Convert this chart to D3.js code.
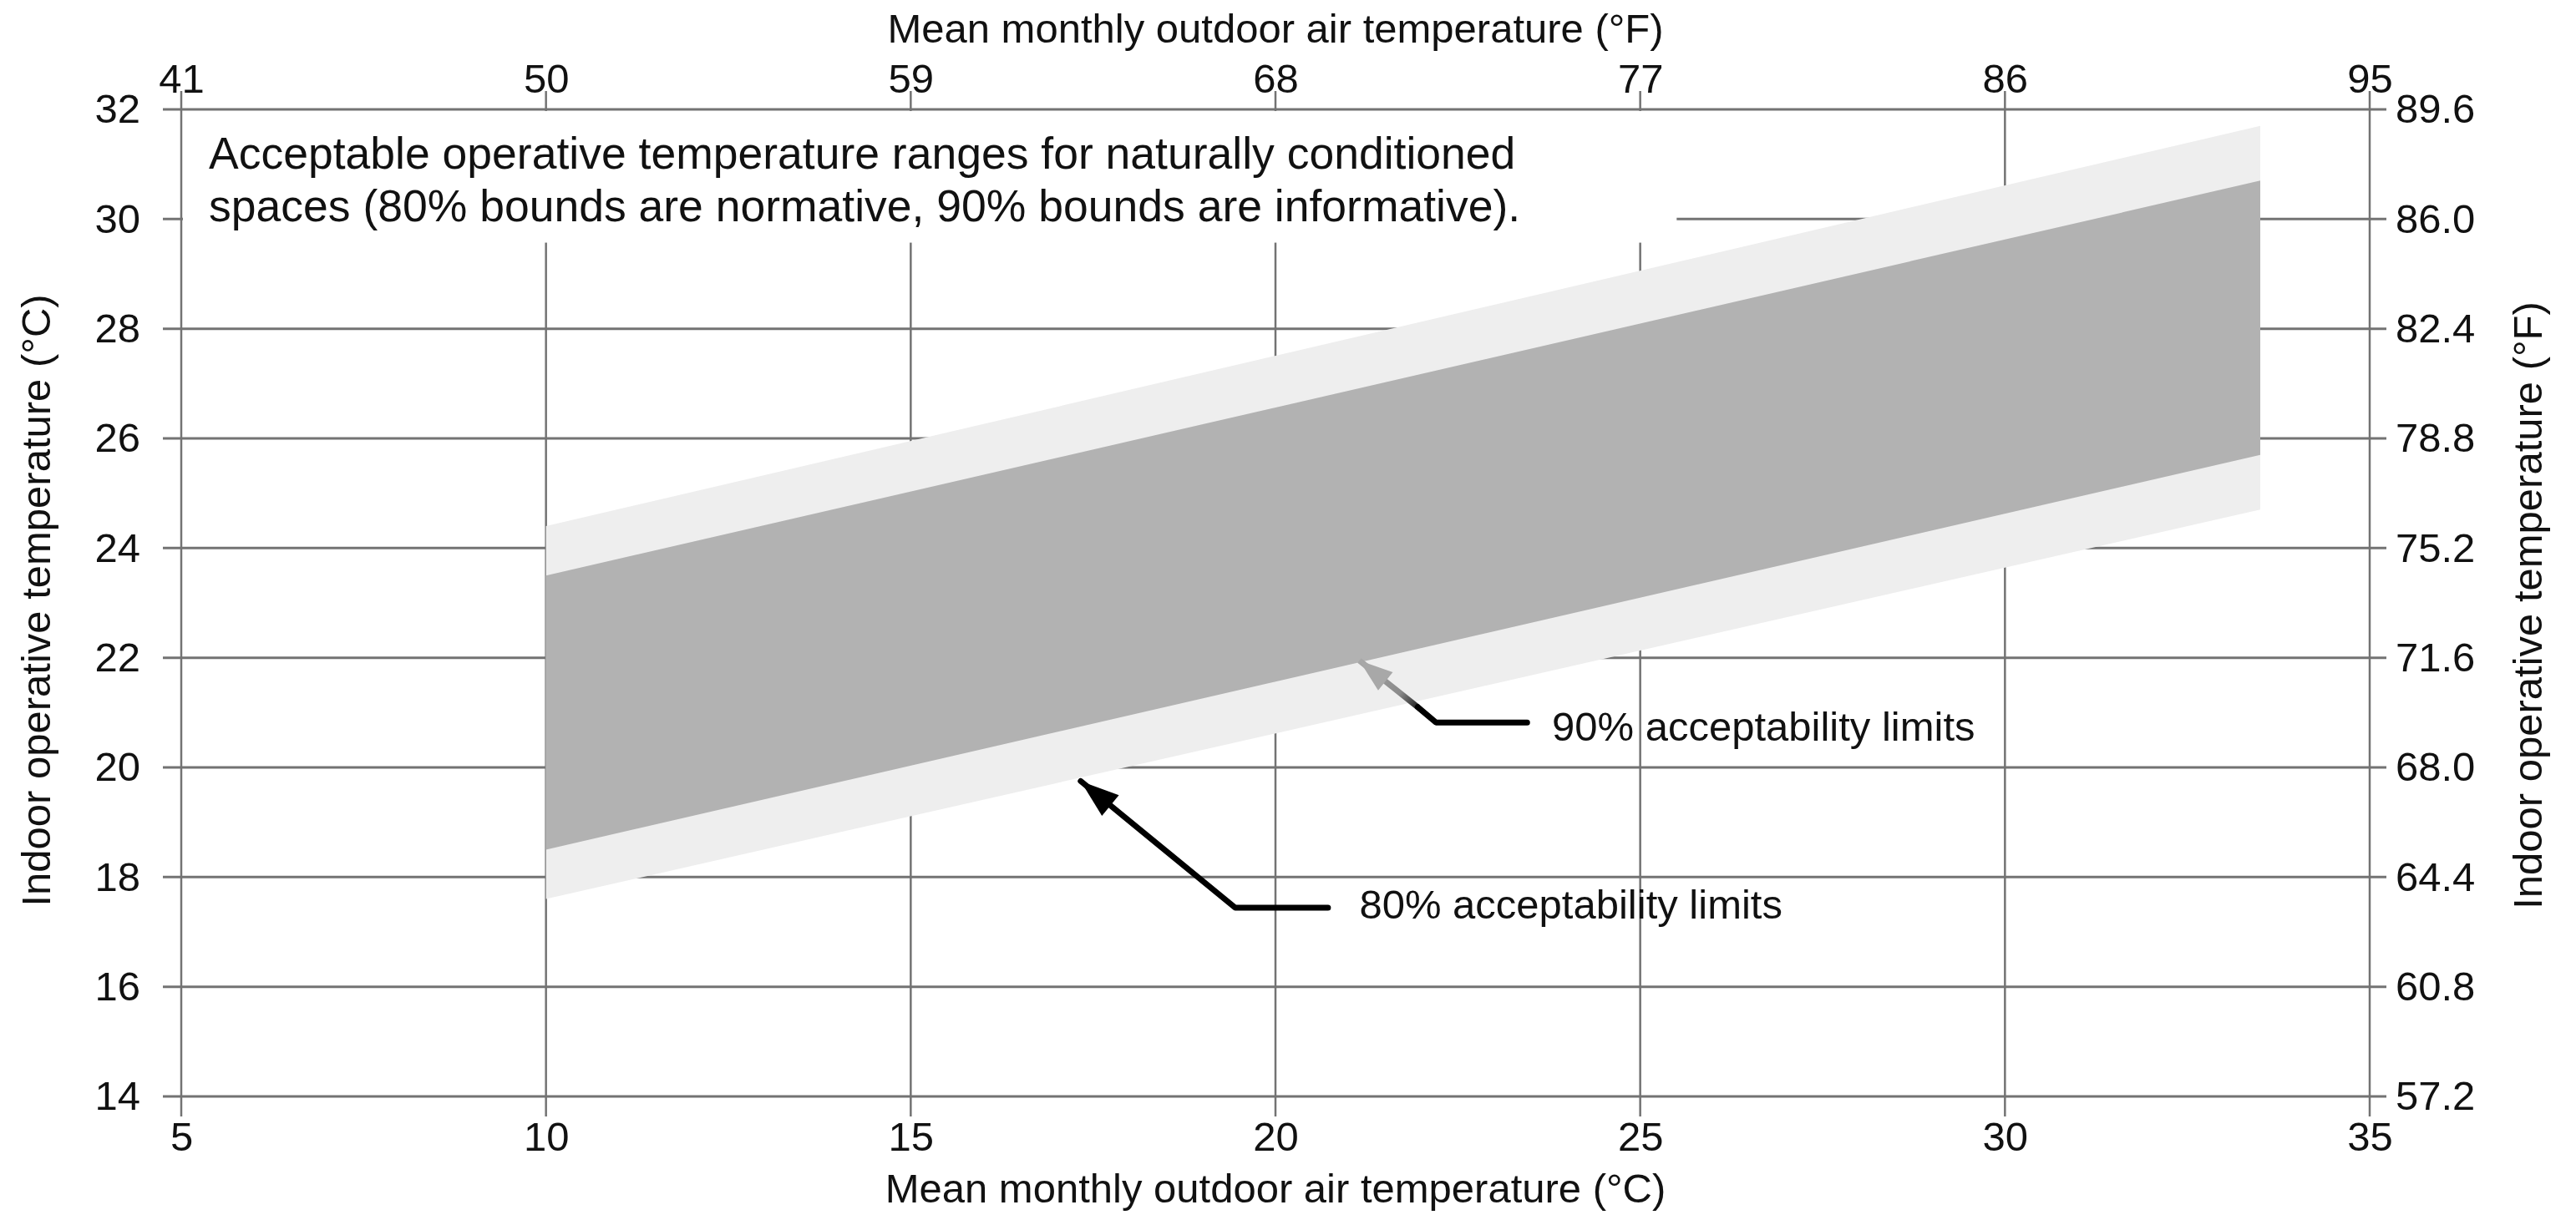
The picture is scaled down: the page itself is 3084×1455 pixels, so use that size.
<!DOCTYPE html>
<html>
<head>
<meta charset="utf-8">
<script src="https://cdn.jsdelivr.net/npm/d3@7.9.0/dist/d3.min.js"></script>
<style>
  html, body { margin: 0; padding: 0; background: #fff; }
  svg { display: block; font-family: "Liberation Sans", Arial, sans-serif; }
</style>
</head>
<body>
<svg id="chart" width="3084" height="1455"></svg>
<script>
// Tick values for both unit systems
const xTicksC = [5, 10, 15, 20, 25, 30, 35];
const xTicksF = [41, 50, 59, 68, 77, 86, 95];
const yTicksC = [14, 16, 18, 20, 22, 24, 26, 28, 30, 32];
const yTicksF = ['57.2', '60.8', '64.4', '68.0', '71.6', '75.2', '78.8', '82.4', '86.0', '89.6'];

// Band edges (°C), at the two ends of the applicable range
const outdoorC = [10, 33.5];
const upper80 = [24.4, 31.7];
const upper90 = [23.5, 30.7];
const lower90 = [18.5, 25.7];
const lower80 = [17.6, 24.7];

// Leader lines for the two labels, in data units (°C, °C)
const arrow90 = [[21.15, 21.95], [21.95, 21.1], [22.2, 20.82], [23.45, 20.82]];
const arrow80 = [[17.33, 19.75], [19.45, 17.44], [20.72, 17.44]];

const noteLines = [
  'Acceptable operative temperature ranges for naturally conditioned',
  'spaces (80% bounds are normative, 90% bounds are informative).'
];

const W = 3084, H = 1455;
const margin = { top: 131, right: 247, bottom: 142, left: 217 };
const fontSize = 49;
const noteSize = 53.5;

const svg = d3.select('#chart');

let x = d3.scaleLinear().domain([5, 35]).range([margin.left, W - margin.right]);
let xF = d3.scaleLinear().domain([41, 95]).range(x.range());
let y = d3.scaleLinear().domain([14, 32]).range([H - margin.bottom, margin.top]);
let yF = d3.scaleLinear().domain([57.2, 89.6]).range(y.range());

const gridColor = '#737373';

// grid lines (they reach a bit past the frame, like tick marks)
svg.append('g')
  .selectAll('line')
  .data(yTicksC)
  .enter()
  .append('line')
  .attr('x1', x(5) - 22)
  .attr('x2', x(35) + 20)
  .attr('y1', (d) => y(d))
  .attr('y2', (d) => y(d))
  .attr('stroke', gridColor)
  .attr('stroke-width', 3);

svg.append('g')
  .selectAll('line')
  .data(xTicksC)
  .enter()
  .append('line')
  .attr('x1', (d) => x(d))
  .attr('x2', (d) => x(d))
  .attr('y1', y(32) - 22)
  .attr('y2', y(14) + 24)
  .attr('stroke', gridColor)
  .attr('stroke-width', 2.5);

// bands: 80% (outer, light) then 90% (inner, dark)
let bandData = outdoorC.map((t, i) => ({
  t: t, u80: upper80[i], l80: lower80[i], u90: upper90[i], l90: lower90[i]
}));

let area80 = d3.area().x((d) => x(d.t)).y0((d) => y(d.l80)).y1((d) => y(d.u80));
let area90 = d3.area().x((d) => x(d.t)).y0((d) => y(d.l90)).y1((d) => y(d.u90));

svg.append('path').datum(bandData).attr('d', area80).attr('fill', '#eeeeee');
svg.append('path').datum(bandData).attr('d', area90).attr('fill', '#b2b2b2');

// white box behind the note
svg.append('rect')
  .attr('x', x(5) + 2)
  .attr('y', y(32) + 2)
  .attr('width', x(25.5) - x(5) - 2)
  .attr('height', y(29.57) - y(32) - 2)
  .attr('fill', '#fff');

svg.append('g')
  .selectAll('text')
  .data(noteLines)
  .enter()
  .append('text')
  .attr('x', 250)
  .attr('y', (d, i) => 202 + i * 63)
  .attr('font-size', noteSize)
  .attr('fill', '#111')
  .text((d) => d);

// axes (labels only, the grid draws the tick marks)
function styleAxis(g) {
  g.select('.domain').remove();
  g.selectAll('.tick line').remove();
  g.selectAll('text')
    .attr('font-size', fontSize)
    .attr('font-family', '"Liberation Sans", Arial, sans-serif')
    .attr('fill', '#111');
}

svg.append('g')
  .attr('transform', `translate(0,${y(14)})`)
  .call(d3.axisBottom(x).tickValues(xTicksC).tickSize(0).tickPadding(30).tickFormat(d3.format('d')))
  .call(styleAxis);

svg.append('g')
  .attr('transform', `translate(0,${y(32)})`)
  .call(d3.axisTop(xF).tickValues(xTicksF).tickSize(0).tickPadding(20).tickFormat(d3.format('d')))
  .call(styleAxis);

svg.append('g')
  .attr('transform', `translate(${x(5)},0)`)
  .call(d3.axisLeft(y).tickValues(yTicksC).tickSize(0).tickPadding(49).tickFormat(d3.format('d')))
  .call(styleAxis);

svg.append('g')
  .attr('transform', `translate(${x(35)},0)`)
  .call(d3.axisRight(yF).tickValues(yTicksF.map(Number)).tickSize(0).tickPadding(31)
    .tickFormat((d, i) => yTicksF[i]))
  .call(styleAxis);

// axis titles
const midX = (x(5) + x(35)) / 2;
const midY = (y(14) + y(32)) / 2;

svg.append('text')
  .attr('x', midX).attr('y', 51)
  .attr('text-anchor', 'middle').attr('font-size', fontSize).attr('fill', '#111')
  .text('Mean monthly outdoor air temperature (°F)');

svg.append('text')
  .attr('x', midX).attr('y', 1440)
  .attr('text-anchor', 'middle').attr('font-size', fontSize).attr('fill', '#111')
  .text('Mean monthly outdoor air temperature (°C)');

svg.append('text')
  .attr('transform', `translate(60,${midY - 3}) rotate(-90)`)
  .attr('text-anchor', 'middle').attr('font-size', fontSize).attr('fill', '#111')
  .text('Indoor operative temperature (°C)');

svg.append('text')
  .attr('transform', `translate(3043,${midY + 3}) rotate(-90)`)
  .attr('text-anchor', 'middle').attr('font-size', fontSize).attr('fill', '#111')
  .text('Indoor operative temperature (°F)');

// arrowheads
function arrowHead(p0, p1, len, half, color) {
  let dx = p0[0] - p1[0], dy = p0[1] - p1[1];
  let n = Math.hypot(dx, dy);
  let ux = dx / n, uy = dy / n;
  let bx = p0[0] - ux * len, by = p0[1] - uy * len;
  let pts = [
    p0,
    [bx - uy * half, by + ux * half],
    [bx + uy * half, by - ux * half]
  ];
  svg.append('polygon')
    .attr('points', pts.map((p) => p.join(',')).join(' '))
    .attr('fill', color);
}

let line = d3.line().x((d) => x(d[0])).y((d) => y(d[1]));

// 90% leader: grey near the tip fading to black
let a90 = arrow90.map((d) => [x(d[0]), y(d[1])]);
let grad = svg.append('defs').append('linearGradient')
  .attr('id', 'fade90')
  .attr('gradientUnits', 'userSpaceOnUse')
  .attr('x1', a90[0][0]).attr('y1', a90[0][1])
  .attr('x2', a90[1][0]).attr('y2', a90[1][1]);
grad.append('stop').attr('offset', 0).attr('stop-color', '#a8a8a8');
grad.append('stop').attr('offset', 0.7).attr('stop-color', '#8a8a8a');
grad.append('stop').attr('offset', 1).attr('stop-color', '#222');

svg.append('path')
  .attr('d', line(arrow90.slice(0, 2)))
  .attr('stroke', 'url(#fade90)').attr('stroke-width', 7).attr('fill', 'none');
svg.append('path')
  .attr('d', line(arrow90.slice(1)))
  .attr('stroke', '#000').attr('stroke-width', 7).attr('fill', 'none')
  .attr('stroke-linecap', 'round').attr('stroke-linejoin', 'round');
arrowHead(a90[0], a90[1], 40, 14, '#a8a8a8');

let a80 = arrow80.map((d) => [x(d[0]), y(d[1])]);
svg.append('path')
  .attr('d', line(arrow80))
  .attr('stroke', '#000').attr('stroke-width', 7).attr('fill', 'none')
  .attr('stroke-linecap', 'round').attr('stroke-linejoin', 'round');
arrowHead(a80[0], a80[1], 46, 16, '#000');

// labels for the leaders
svg.append('text')
  .attr('x', x(23.79)).attr('y', 887)
  .attr('font-size', fontSize).attr('fill', '#111')
  .text('90% acceptability limits');

svg.append('text')
  .attr('x', x(21.15)).attr('y', 1100)
  .attr('font-size', fontSize).attr('fill', '#111')
  .text('80% acceptability limits');
</script>
</body>
</html>
